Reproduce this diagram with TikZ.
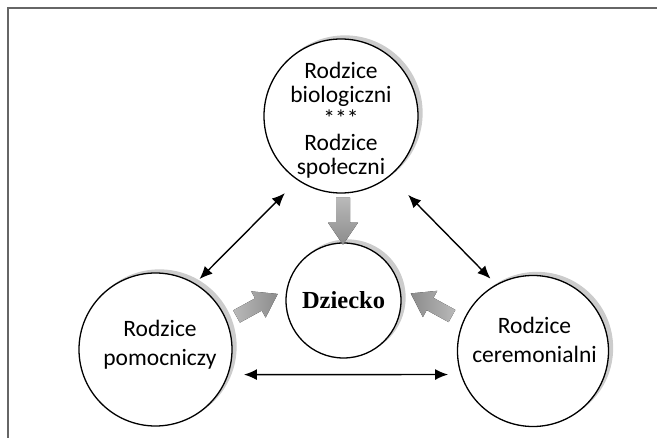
\documentclass[tikz,border=0pt]{standalone}
\usepackage{fontspec}
\newfontfamily\carlito{Carlito}
\newfontfamily\dserif{Liberation Serif}
\usetikzlibrary{shadows,calc,arrows.meta}
\tikzset{
  ring/.style={circle, draw=black, line width=1.3pt, fill=white, inner sep=0pt,
    copy shadow={shadow xshift=4pt, shadow yshift=3pt, draw=gray!40, fill=gray!40}},
  lbl/.style={align=center, font=\carlito\fontsize{23.5}{24}\selectfont, inner sep=0pt},
  dbl/.style={{Latex[length=13pt,width=11pt]}-{Latex[length=13pt,width=11pt]}, line width=1.4pt},
  blk/.style={draw=none},
  frame/.style={draw=gray!80!black, line width=1.5pt}
}
\newcommand\blockarr[1]{%
  \fill[blk,#1] (0,-7) -- (25,-7) -- (25,-15) -- (47,0) -- (25,15) -- (25,7) -- (0,7) -- cycle;}
\begin{document}
\begin{tikzpicture}[x=1pt,y=-1pt]
\useasboundingbox (0,0) rectangle (657,438);
\draw[frame] (8,438) -- (8,8) -- (657,8);

\node[ring, minimum size=154pt] (top) at (341,116) {};
\node[ring, minimum size=115pt, font=\dserif\bfseries\fontsize{24.5}{28}\selectfont] (mid) at (343.5,300.5) {Dziecko};
\node[ring, minimum size=153pt] (left) at (155.5,349.5) {};
\node[ring, minimum size=151pt] (right) at (533,351) {};

\node[lbl] (toptext) at ($(top)+(0,4)$) {Rodzice\\biologiczni\\***\\Rodzice\\społeczni};
\node[lbl, font=\carlito\fontsize{23.5}{29}\selectfont] (lefttext) at ($(left)+(4.5,-5)$) {Rodzice\\pomocniczy};
\node[lbl, font=\carlito\fontsize{23.5}{29}\selectfont] (righttext) at ($(right)+(1.5,-11.5)$) {Rodzice\\ceremonialni};

\draw[dbl, shorten <=6pt, shorten >=18pt] (left.59.7) -- (top.236.1);
\draw[dbl, shorten <=26pt, shorten >=8pt] (top.309.9) -- (right.119.3);
\draw[dbl, shorten <=15.5pt, shorten >=12.5pt] (left.-19.5) -- (right.198.5);

\begin{scope}[shift={($(top.south)+(2,4)$)}, rotate=-90]
  \blockarr{top color=gray!55, bottom color=gray!90}
\end{scope}
\begin{scope}[shift={($(left)+(81,-33)$)}, rotate=28.7]
  \blockarr{left color=gray!55, right color=gray!90}
\end{scope}
\begin{scope}[shift={($(right)+(-81,-35)$)}, rotate=151.3]
  \blockarr{left color=gray!90, right color=gray!55}
\end{scope}
\end{tikzpicture}
\end{document}
